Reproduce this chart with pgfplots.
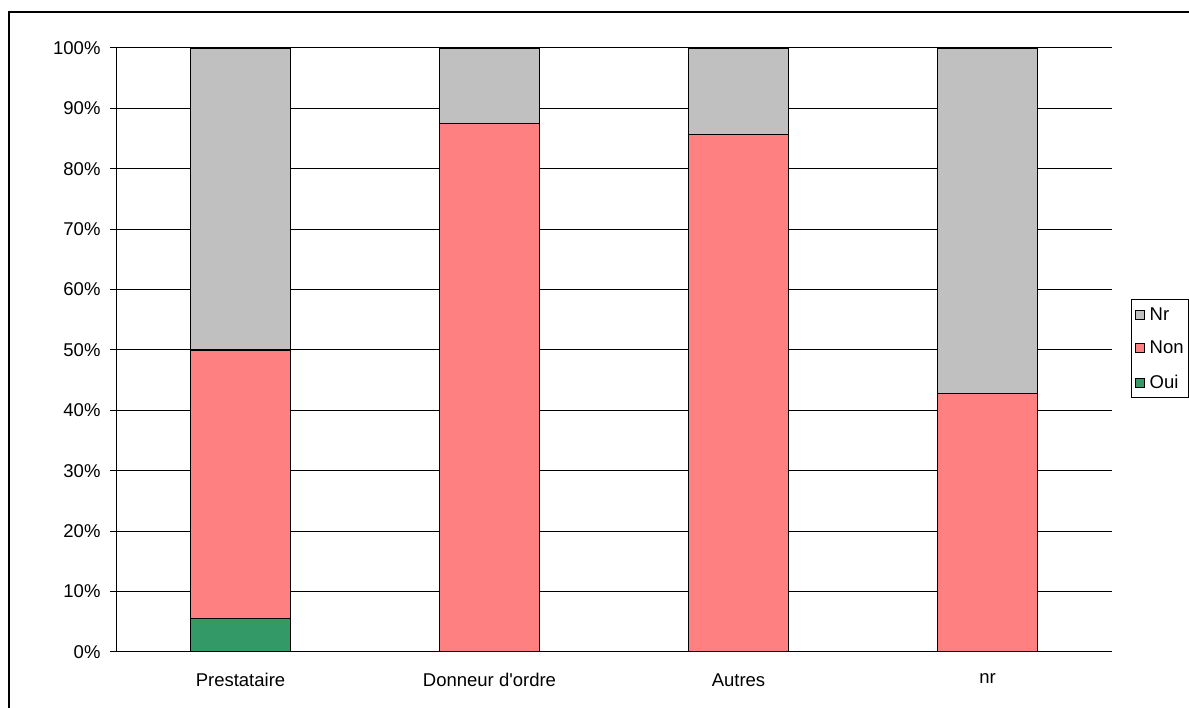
\documentclass[border=0pt]{standalone}
\usepackage{pgfplots}
\pgfplotsset{compat=1.18}
\usepackage{fontspec}
\setmainfont{Liberation Sans}[Ligatures=TeXOff]
\definecolor{cNr}{HTML}{C0C0C0}
\definecolor{cNon}{HTML}{FF8080}
\definecolor{cOui}{HTML}{339966}
\begin{document}
\begin{tikzpicture}[x=1pt,y=1pt]
\useasboundingbox (0,0) rectangle (1189,708);
% chart frame
\draw[line width=1.3pt] (9,-10) -- (9,696) -- (1200,696);
\begin{axis}[
  at={(116pt,56pt)}, anchor=south west,
  scale only axis, width=996pt, height=604pt,
  font=\fontsize{18.5}{21}\selectfont,
  ybar stacked, bar width=100pt,
  xmin=0, xmax=4, ymin=0, ymax=100,
  axis x line*=bottom, axis y line*=left,
  axis line style={line width=1pt, -},
  xtick={0.5,1.5,2.5,3.5},
  xticklabels={Prestataire,Donneur d'ordre,Autres,nr},
  x tick style={draw=none},
  extra x ticks={0,1,2,3,4}, extra x tick labels={},
  extra x tick style={major tick length=6pt, tick style={draw=black,line width=1pt}},
  ytick={0,10,...,100},
  yticklabels={0\%,10\%,20\%,30\%,40\%,50\%,60\%,70\%,80\%,90\%,100\%},
  tick align=outside, major tick length=6pt,
  y tick style={line width=1pt, black},
  ymajorgrids, grid style={black, line width=1pt},
  xticklabel style={yshift=-12pt},
  yticklabel style={xshift=-6pt},
  reverse legend,
  legend style={at={(1.0195,0.5844)}, anchor=north west, draw=black, line width=1pt,
    font=\fontsize{18.5}{21}\selectfont, row sep=15.5pt, column sep=3pt,
    inner xsep=3pt, inner ysep=6pt},
  legend cell align=left,
  legend image code/.code={\draw[#1, line width=0.8pt] (0pt,-4.5pt) rectangle (9pt,4.5pt);},
  every axis plot/.append style={draw=black, line width=1.2pt},
]
\addplot[fill=cOui] coordinates {(0.5,5.56) (1.5,0) (2.5,0) (3.5,0)};
\addlegendentry{Oui}
\addplot[fill=cNon] coordinates {(0.5,44.44) (1.5,87.5) (2.5,85.71) (3.5,42.86)};
\addlegendentry{Non}
\addplot[fill=cNr] coordinates {(0.5,50) (1.5,12.5) (2.5,14.29) (3.5,57.14)};
\addlegendentry{Nr}
\end{axis}
\end{tikzpicture}
\end{document}
